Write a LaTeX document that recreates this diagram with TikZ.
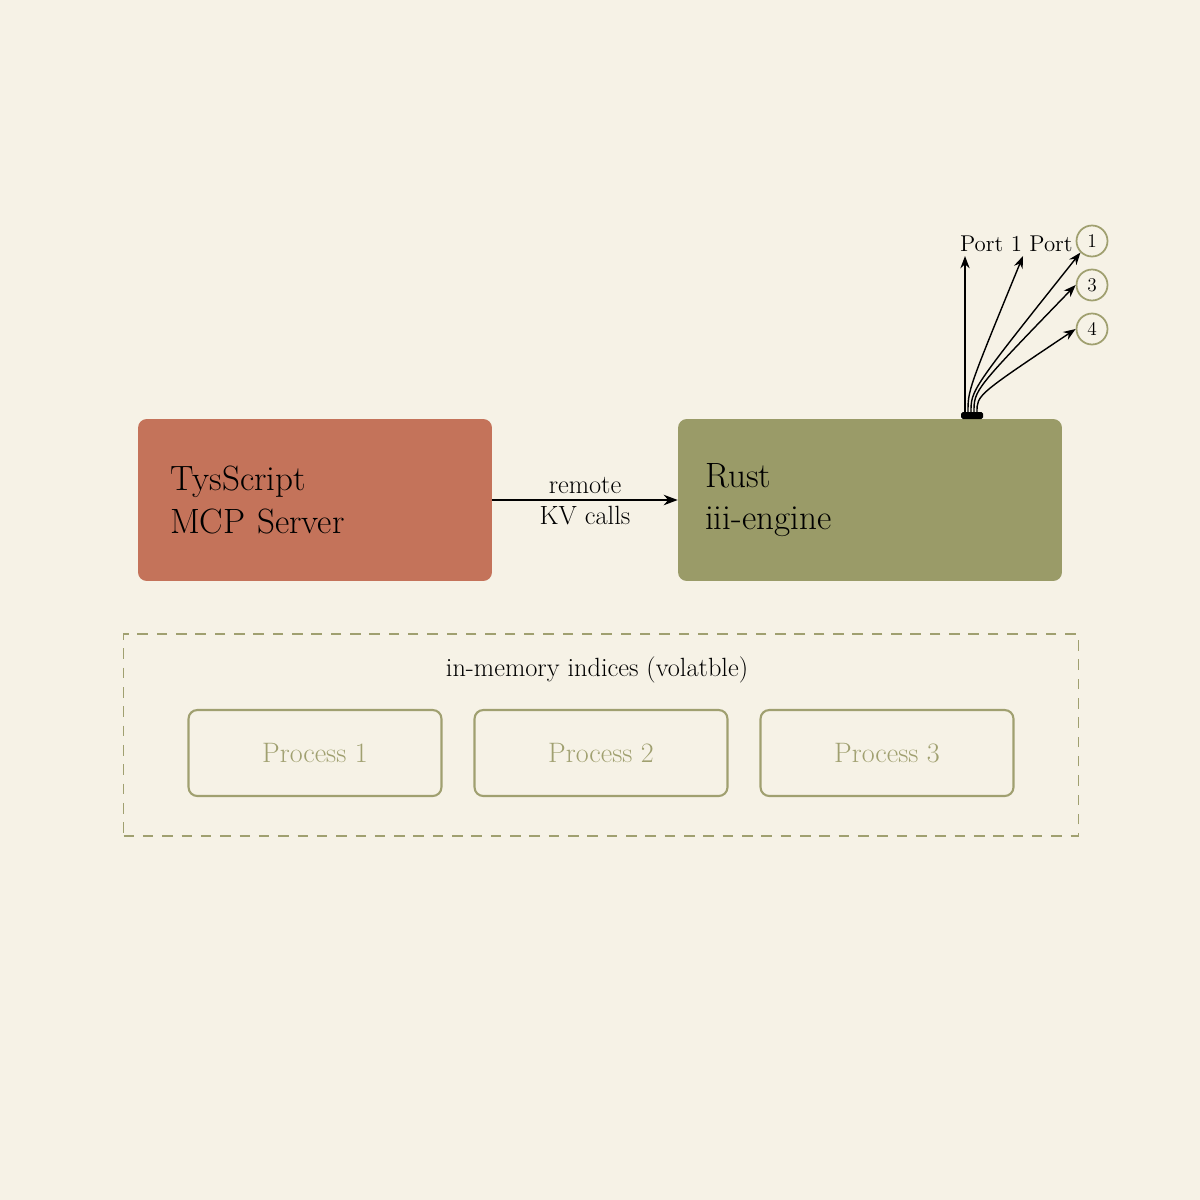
\documentclass[tikz,border=0pt]{standalone}
\usepackage{tikz}
\usetikzlibrary{arrows.meta}
\definecolor{paper}{HTML}{F6F2E6}
\definecolor{rustred}{HTML}{C4735A}
\definecolor{olive}{HTML}{9A9B68}
\definecolor{oline}{HTML}{A0A070}
\begin{document}
\begin{tikzpicture}[x=0.02cm,y=-0.02cm,
    box/.style={rounded corners=5pt, minimum height=3.24cm, text width=5.8cm, align=left, font=\fontsize{20}{24}\selectfont, inner sep=0pt},
    proc/.style={draw=oline, line width=1.2pt, rounded corners=5pt, minimum width=5.06cm, minimum height=1.72cm, text=oline, font=\fontsize{16}{19}\selectfont},
    port/.style={circle, draw=oline, line width=1pt, inner sep=1pt, minimum size=0.62cm, font=\fontsize{11}{13}\selectfont},
    fan/.style={-{Stealth[length=7pt]}, line width=0.8pt},
  ]
  \fill[paper] (0,0) rectangle (1200,1200);
  \useasboundingbox (0,0) rectangle (1200,1200);
  % main blocks
  \node[box, fill=rustred, minimum width=7.08cm, text width=5.8cm] (ts) at (315,500) {TysScript\\MCP Server};
  \node[box, fill=olive, minimum width=7.68cm, text width=6.6cm] (rust) at (870,500) {Rust\\iii-engine};
  \draw[-{Stealth[length=8pt]}, line width=0.8pt] (ts.east) -- (rust.west)
    node[midway, above, font=\fontsize{15}{18}\selectfont] {remote}
    node[midway, below, font=\fontsize{15}{18}\selectfont] {KV calls};
  % port stub and fan
  \fill[black, rounded corners=1pt] (961,412) rectangle (983,419);
  \coordinate (s1) at (965,412);
  \coordinate (s2) at (968,412);
  \coordinate (s3) at (971,412);
  \coordinate (s4) at (974,412);
  \coordinate (s5) at (977,412);
  \node[port] (p1) at (1092,241) {1};
  \node[port] (p3) at (1092,285) {3};
  \node[port] (p4) at (1092,329) {4};
  \node[font=\fontsize{13}{15}\selectfont, anchor=south west, inner sep=1pt] (lab) at (958,254) {Port 1 Port};
  \draw[fan] (s1) -- (965,256);
  \draw[fan] (s2) .. controls (968,390) .. (1023,256);
  \draw[fan] (s3) .. controls (971,390) .. (p1.south west);
  \draw[fan] (s4) .. controls (974,390) .. (p3.west);
  \draw[fan] (s5) .. controls (977,395) .. (p4.west);
  % volatile area
  \node[draw=oline, dashed, line width=1pt, dash pattern=on 6pt off 5pt, minimum width=19.1cm, minimum height=4.04cm] (mem) at (601,735) {};
  \node[font=\fontsize{15}{18}\selectfont] (memlab) at (597,670) {in-memory indices (volatble)};
  \node[proc] (pr1) at (315,753) {Process 1};
  \node[proc] (pr2) at (601,753) {Process 2};
  \node[proc] (pr3) at (887,753) {Process 3};
\end{tikzpicture}
\end{document}
